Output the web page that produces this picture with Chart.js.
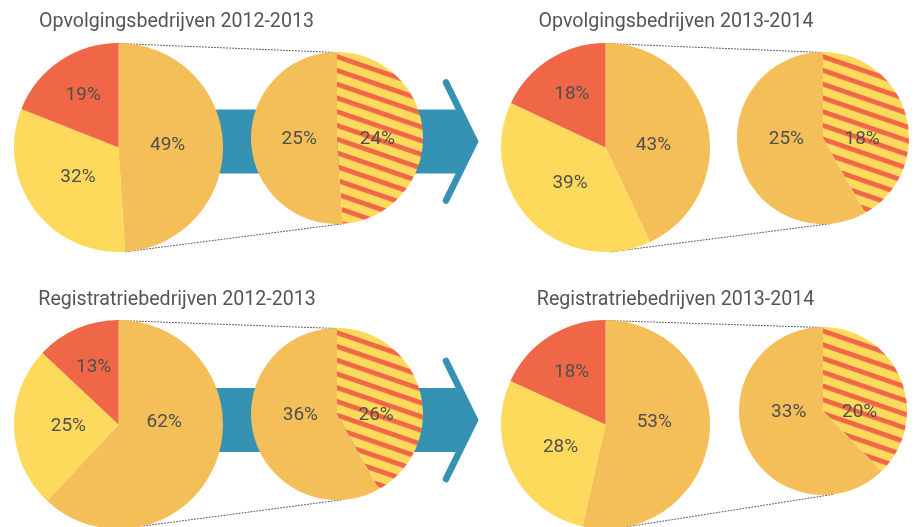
<!DOCTYPE html>
<html>
<head>
<meta charset="utf-8">
<script src="https://cdn.jsdelivr.net/npm/chart.js@4.4.0/dist/chart.umd.min.js"></script>
<style>
  html, body { margin: 0; padding: 0; background: #fff; }
  #stage { position: relative; width: 920px; height: 527px; overflow: hidden; font-family: Roboto, sans-serif; }
  #decor { position: absolute; left: 0; top: 0; }
  .pie { position: absolute; }
  .title { position: absolute; color: #555; font-size: 19.6px; white-space: nowrap; transform: translate(-50%, -50%); }
</style>
</head>
<body>
<div id="stage">
  <canvas id="decor" width="920" height="527"></canvas>
</div>
<script>
const titles = ['Opvolgingsbedrijven 2012-2013', 'Opvolgingsbedrijven 2013-2014', 'Registratriebedrijven 2012-2013', 'Registratriebedrijven 2013-2014'];
// main pies: [orange, yellow, red]
const mainLabels = ['Oranje', 'Geel', 'Rood'];
const mainValues = [[49, 32, 19], [43, 39, 18], [62, 25, 13], [53, 28, 18]];
// detail pies: split of the orange slice [striped, plain]
const detailLabels = ['Gestreept', 'Oranje'];
const detailValues = [[24, 25], [18, 25], [26, 36], [20, 33]];

const ORANGE = '#f4be58', YELLOW = '#fdd95c', RED = '#f06748', BLUE = '#3592b2', INK = '#4f4f4f';

// layout of the four groups: centre x, centre y, radius
const layout = [
  { title: [176.5, 20], big: [118.5, 147.5, 104.5], small: [337, 137.5, 86], link: [176, 176] },
  { title: [676, 20], big: [605.5, 147.5, 104.5], small: [822.5, 137.5, 86], link: [177, 175] },
  { title: [177, 298], big: [118.5, 424.5, 104.5], small: [337, 414, 86], link: [166, 177] },
  { title: [675.5, 298], big: [605.5, 424.5, 104.5], small: [822.5, 411, 84], link: [168, 173] }
];
const arrowsY = [141.5, 420];

const stage = document.getElementById('stage');

const stripes = () => {
  const c = document.createElement('canvas');
  c.width = 13; c.height = 13;
  const g = c.getContext('2d');
  g.fillStyle = YELLOW; g.fillRect(0, 0, 13, 13);
  g.fillStyle = RED; g.fillRect(0, 0, 13, 4.8);
  const p = g.createPattern(c, 'repeat');
  p.setTransform(new DOMMatrix().rotate(19));
  return p;
};

// percent labels inside the slices
const pctLabels = {
  id: 'pctLabels',
  afterDatasetsDraw(chart, args, opts) {
    const ctx = chart.ctx;
    const ds = chart.data.datasets[0];
    ctx.save();
    ctx.font = '19px Roboto, sans-serif';
    ctx.fillStyle = INK;
    ctx.textAlign = 'center';
    ctx.textBaseline = 'middle';
    chart.getDatasetMeta(0).data.forEach((arc, i) => {
      const mid = (arc.startAngle + arc.endAngle) / 2;
      const r = arc.outerRadius * opts.radius[i];
      const x = arc.x + Math.cos(mid) * r;
      const y = opts.flat[i] ? arc.y + opts.dy : arc.y + Math.sin(mid) * r;
      ctx.fillText(ds.data[i] + '%', x, y);
    });
    ctx.restore();
  }
};

const makePie = (spec, labels, values, colors, labelOpts) => {
  const [cx, cy, r] = spec;
  const size = Math.round(2 * r);
  const left = Math.round(cx - r), top = Math.round(cy - r);
  const box = document.createElement('div');
  box.className = 'pie';
  box.style.left = left + 'px';
  box.style.top = top + 'px';
  const canvas = document.createElement('canvas');
  canvas.width = size; canvas.height = size;
  box.appendChild(canvas);
  stage.appendChild(box);
  const chart = new Chart(canvas, {
    type: 'pie',
    data: {
      labels: labels,
      datasets: [{ data: values, backgroundColor: colors, borderWidth: 0 }]
    },
    options: {
      responsive: false,
      animation: false,
      events: [],
      layout: { padding: 0 },
      plugins: {
        legend: { display: false },
        tooltip: { enabled: false },
        pctLabels: labelOpts
      }
    },
    plugins: [pctLabels]
  });
  const arc = chart.getDatasetMeta(0).data[0];
  return { x: left + arc.x, y: top + arc.y, r: arc.outerRadius };
};

const onCircle = (c, deg) => {
  const a = deg * Math.PI / 180;
  return [c.x + c.r * Math.sin(a), c.y - c.r * Math.cos(a)];
};

const drawDecor = (pairs) => {
  const ctx = document.getElementById('decor').getContext('2d');
  // blue arrows behind the pies
  arrowsY.forEach(y => {
    const h = 32, x0 = 200, back = 446, tip = 475, arm = 59;
    const join = back + (tip - back) * (arm - h) / arm;
    ctx.fillStyle = BLUE;
    ctx.beginPath();
    ctx.moveTo(x0, y - h);
    ctx.lineTo(join, y - h);
    ctx.lineTo(tip, y);
    ctx.lineTo(join, y + h);
    ctx.lineTo(x0, y + h);
    ctx.closePath();
    ctx.fill();
    ctx.strokeStyle = BLUE;
    ctx.lineWidth = 6.5;
    ctx.lineCap = 'round';
    ctx.lineJoin = 'miter';
    ctx.beginPath();
    ctx.moveTo(back, y - arm);
    ctx.lineTo(tip, y);
    ctx.lineTo(back, y + arm);
    ctx.stroke();
  });
  // dotted connectors between main and detail pie
  ctx.strokeStyle = '#555';
  ctx.lineWidth = 1;
  ctx.setLineDash([1, 2]);
  pairs.forEach(({ big, small, link }) => {
    const a = onCircle(big, 0), b = onCircle(small, 0);
    const c = onCircle(big, link[0]), d = onCircle(small, link[1]);
    ctx.beginPath();
    ctx.moveTo(a[0], a[1] + 0.5); ctx.lineTo(b[0], b[1] + 0.5);
    ctx.moveTo(c[0], c[1]); ctx.lineTo(d[0], d[1]);
    ctx.stroke();
  });
};

const pairs = layout.map((g, i) => {
  const t = document.createElement('div');
  t.className = 'title';
  t.textContent = titles[i];
  t.style.left = g.title[0] + 'px';
  t.style.top = g.title[1] + 'px';
  stage.appendChild(t);
  const big = makePie(g.big, mainLabels, mainValues[i], [ORANGE, YELLOW, RED],
    { radius: [0.47, 0.48, 0.6], flat: [true, false, false], dy: -2 });
  const small = makePie(g.small, detailLabels, detailValues[i], [stripes(), ORANGE],
    { radius: [0.47, 0.44], flat: [true, true], dy: 1.5 });
  return { big, small, link: g.link };
});

drawDecor(pairs);
</script>
</body>
</html>
